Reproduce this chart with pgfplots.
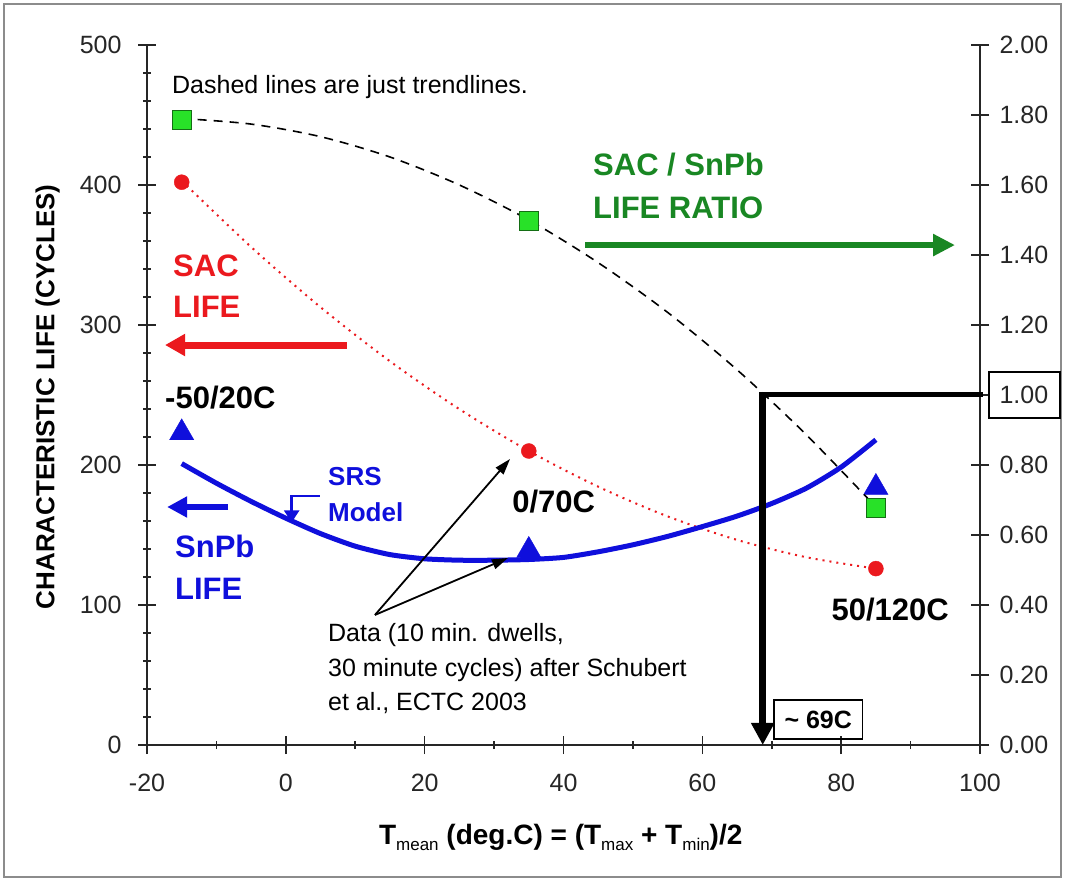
\documentclass[border=0pt]{standalone}
\usepackage{fontspec}
\setmainfont{Liberation Sans}
\usepackage{pgfplots}
\pgfplotsset{compat=1.18}
\usetikzlibrary{arrows.meta}
\definecolor{sacred}{RGB}{235,25,30}
\definecolor{ratiogreen}{RGB}{25,135,35}
\definecolor{sqfill}{RGB}{40,225,40}
\definecolor{sqedge}{RGB}{20,110,20}
\definecolor{snblue}{RGB}{15,15,220}
\newcommand{\reg}{\fontsize{25}{30}\selectfont}
\newcommand{\lbl}{\fontsize{31}{36}\selectfont\bfseries}
\newcommand{\midlbl}{\fontsize{26}{30}\selectfont\bfseries}
\begin{document}
\begin{tikzpicture}
\path[use as bounding box] (0pt,0pt) rectangle (1065pt,881pt);
\fill[white] (0pt,0pt) rectangle (1065pt,881pt);
\draw[black!45, line width=1.5pt] (4pt,4pt) rectangle (1061pt,877pt);

\begin{axis}[
  at={(147pt,136pt)}, anchor=south west,
  scale only axis, width=833pt, height=700pt,
  xmin=-20, xmax=100, ymin=0, ymax=500,
  axis x line*=bottom, axis y line*=left,
  axis line style={line width=1.6pt, black!85},
  xtick={-20,0,20,40,60,80,100}, minor x tick num=1,
  ytick={0,100,200,300,400,500}, minor y tick num=4,
  tick align=center, major tick length=18pt, minor tick length=8pt,
  tick style={line width=1.6pt, black!85},
  /pgf/number format/assume math mode=true,
  tick label style={font=\reg, text=black!85},
  xticklabel style={yshift=-17pt},
  yticklabel style={xshift=-13pt},
  clip=false,
]
% SAC trendline (dotted) and data
\addplot[sacred, line width=2pt, dash pattern=on 2pt off 5pt, smooth] coordinates {
 (-15,403) (-5,355.7) (5,312.7) (15,274.1) (25,239.9) (35,210) (45,184.5) (55,163.3) (65,146.5) (75,134.1) (85,126)};
\addplot[only marks, mark=*, mark size=7.5pt, sacred] coordinates {(-15,402) (35,210) (85,126)};
% SRS model
\addplot[snblue, line width=5pt, smooth, tension=0.4] coordinates {
 (-15,201) (-10,187) (-5,174) (0,162) (5,151) (10,142) (15,136) (20,133) (25,132) (30,132) (35,132.5) (40,134) (45,138) (50,143) (55,149) (60,156) (65,163.5) (70,172.5) (75,183.5) (80,198.5) (85,218)};
% SnPb data
\addplot[only marks, mark=triangle*, mark size=14pt, snblue] coordinates {(-15,223) (35,139) (85,184)};

% annotations
\node[anchor=base west, font=\reg, inner sep=0] at (axis cs:-16.4,465.7) {Dashed lines are just trendlines.};
\node[anchor=base west, font=\lbl, text=sacred, inner sep=0] at (axis cs:-16.25,334.3) {SAC};
\node[anchor=base west, font=\lbl, text=sacred, inner sep=0] at (axis cs:-16.25,305.7) {LIFE};
\draw[sacred, line width=7pt, -{Triangle[length=20pt,width=21pt]}] (axis cs:8.8,285.7) -- (axis cs:-17.4,285.7);
\node[anchor=base west, font=\lbl, text=ratiogreen, inner sep=0] at (axis cs:44.25,407) {SAC / SnPb};
\node[anchor=base west, font=\lbl, text=ratiogreen, inner sep=0] at (axis cs:44.25,376.4) {LIFE RATIO};
\draw[ratiogreen, line width=6pt, -{Triangle[length=22pt,width=21pt]}] (axis cs:43.1,357.1) -- (axis cs:96.4,357.1);
\node[anchor=base west, font=\lbl, inner sep=0] at (axis cs:-17.4,240) {-50/20C};
\node[anchor=base west, font=\lbl, inner sep=0] at (axis cs:32.6,166.4) {0/70C};
\node[anchor=base west, font=\lbl, inner sep=0] at (axis cs:78.6,88.6) {50/120C};
\node[anchor=base west, font=\midlbl, text=snblue, inner sep=0] at (axis cs:6.07,185.7) {SRS};
\node[anchor=base west, font=\midlbl, text=snblue, inner sep=0] at (axis cs:6.07,160) {Model};
\draw[snblue, line width=2.5pt, -{Triangle[length=12pt,width=15pt]}] (axis cs:4.92,177.9) -- (axis cs:0.84,177.9) -- (axis cs:0.84,159);
\draw[snblue, line width=6pt, -{Triangle[length=20pt,width=20pt]}] (axis cs:-8.33,170) -- (axis cs:-17.1,170);
\node[anchor=base west, font=\lbl, text=snblue, inner sep=0] at (axis cs:-15.97,133.6) {SnPb};
\node[anchor=base west, font=\lbl, text=snblue, inner sep=0] at (axis cs:-15.97,103.6) {LIFE};
\draw[black, line width=1.8pt, -{Triangle[length=16pt,width=10pt]}] (axis cs:12.84,92.9) -- (axis cs:32.3,204.3);
\draw[black, line width=1.8pt, -{Triangle[length=16pt,width=10pt]}] (axis cs:12.84,92.9) -- (axis cs:32.0,133.6);
\node[anchor=base west, font=\reg, inner sep=0] at (axis cs:6.07,73.8) {Data (10 min. dwells,};
\node[anchor=base west, font=\reg, inner sep=0] at (axis cs:6.07,48.8) {30 minute cycles) after Schubert};
\node[anchor=base west, font=\reg, inner sep=0] at (axis cs:6.07,25) {et al., ECTC 2003};
% axis labels
\node[rotate=90, font=\fontsize{26}{30}\selectfont\bfseries, anchor=center] at (axis cs:-34.3,248.6) {CHARACTERISTIC LIFE (CYCLES)};
\node[anchor=base, inner sep=0, font=\fontsize{28}{32}\selectfont\bfseries] at (axis cs:39.6,-71.4)
 {T{\fontsize{17}{20}\selectfont\mdseries\raisebox{-6pt}{mean}} (deg.C) = (T{\fontsize{17}{20}\selectfont\mdseries\raisebox{-6pt}{max}} + T{\fontsize{17}{20}\selectfont\mdseries\raisebox{-6pt}{min}})/2};
\end{axis}

\begin{axis}[
  at={(147pt,136pt)}, anchor=south west,
  scale only axis, width=833pt, height=700pt,
  xmin=-20, xmax=100, ymin=0, ymax=2,
  axis x line=none, axis y line*=right,
  axis line style={line width=1.6pt, black!85},
  ytick={0,0.2,0.4,0.6,0.8,1,1.2,1.4,1.6,1.8,2},
  tick align=center, major tick length=18pt,
  tick style={line width=1.6pt, black!85},
  /pgf/number format/assume math mode=true,
  tick label style={font=\reg, text=black!85},
  yticklabel style={xshift=7pt, /pgf/number format/fixed, /pgf/number format/fixed zerofill, /pgf/number format/precision=2},
  clip=false,
]
\addplot[only marks, mark=square*, mark size=9.5pt, mark options={fill=sqfill, draw=sqedge, line width=1pt}] coordinates {(-15,1.786) (35,1.497) (85,0.677)};
\addplot[black, line width=1.6pt, dash pattern=on 9pt off 7pt, smooth] coordinates {
 (-15,1.79) (-5,1.774) (5,1.738) (15,1.680) (25,1.600) (35,1.50) (45,1.378) (55,1.236) (65,1.072) (75,0.886) (85,0.68)};
\draw[line width=5pt] (axis cs:100.4,1) -- (axis cs:68.7,1);
\draw[line width=7pt, -{Triangle[length=22pt,width=22pt]}] ([yshift=2.5pt]axis cs:68.7,1) -- (axis cs:68.7,0);
\draw[line width=1.5pt] (axis cs:70.3,0.0172) rectangle (axis cs:83.1,0.1284);
\node[font=\fontsize{25}{30}\selectfont\bfseries, anchor=center] at (axis cs:76.7,0.0728) {\textasciitilde\ 69C};
\draw[line width=1.5pt] (axis cs:101.3,0.934) rectangle (axis cs:111.5,1.0657);
\end{axis}
\end{tikzpicture}
\end{document}
